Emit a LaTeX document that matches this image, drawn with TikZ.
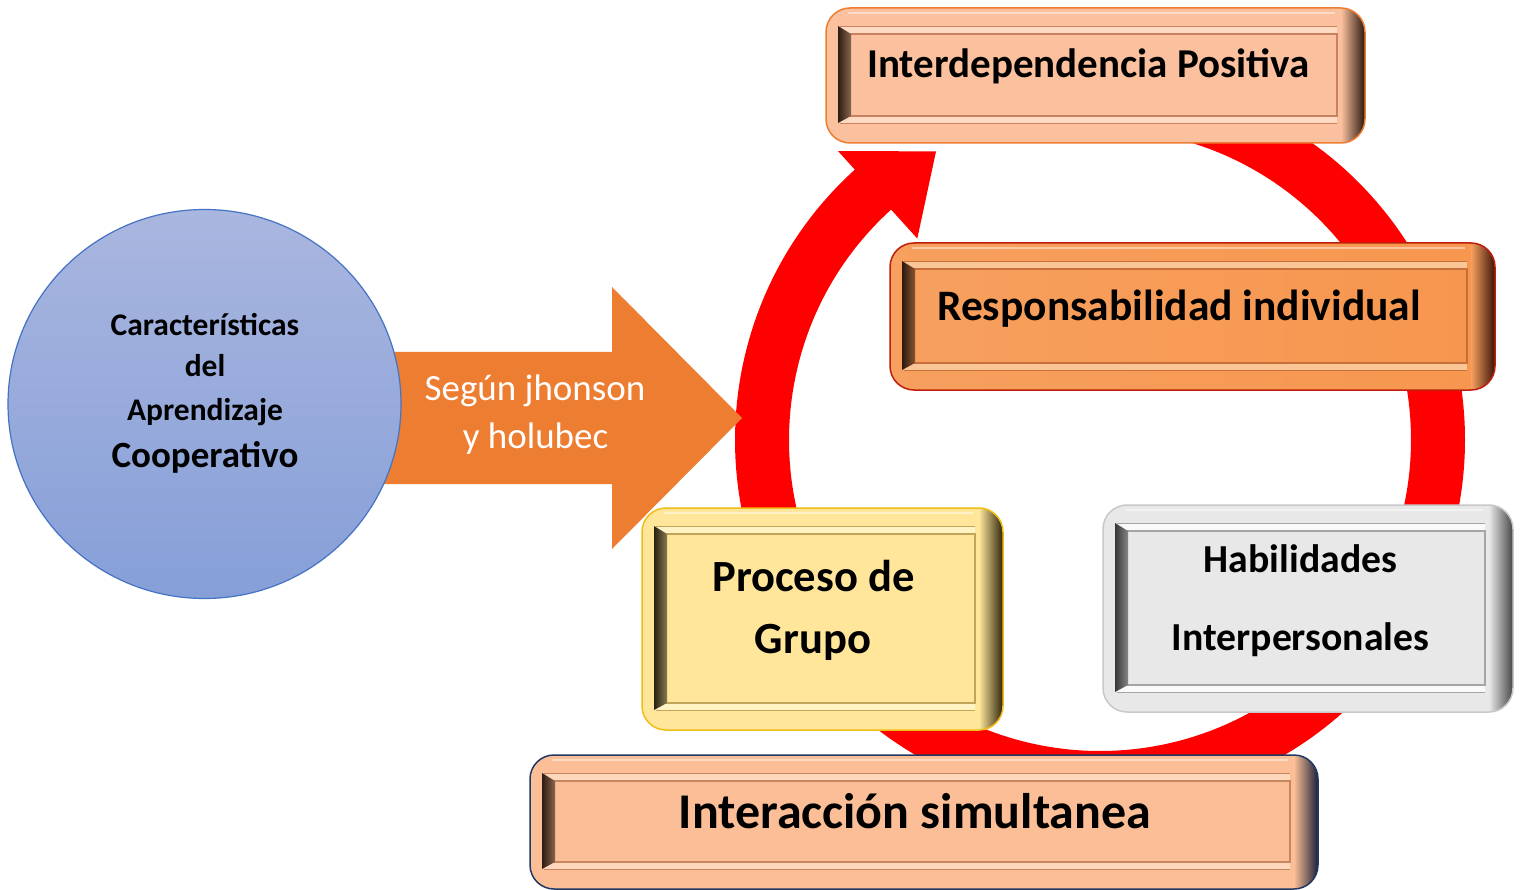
\documentclass[tikz,border=0pt]{standalone}
\usepackage{fontspec}
\setmainfont{Carlito}
\usetikzlibrary{calc,shapes.geometric}
% colour sets: main, light, line, bar, dark, edge
\definecolor{ipmain}{RGB}{251,192,158}\definecolor{iplight}{RGB}{254,218,195}\definecolor{ipline}{RGB}{200,130,95}
\definecolor{ipbar}{RGB}{45,28,18}\definecolor{ipdark}{RGB}{40,22,12}\definecolor{ipedge}{RGB}{237,125,49}
\definecolor{rimain}{RGB}{247,160,95}\definecolor{rilight}{RGB}{250,198,150}\definecolor{riline}{RGB}{200,112,60}
\definecolor{ribar}{RGB}{45,25,12}\definecolor{ridark}{RGB}{60,18,8}\definecolor{riedge}{RGB}{190,30,10}
\definecolor{rimid}{RGB}{250,186,135}\definecolor{riright}{RGB}{247,150,78}
\definecolor{pgmain}{RGB}{255,230,155}\definecolor{pglight}{RGB}{255,242,195}\definecolor{pgline}{RGB}{195,165,90}
\definecolor{pgbar}{RGB}{40,33,18}\definecolor{pgdark}{RGB}{45,35,10}\definecolor{pgedge}{RGB}{240,190,20}
\definecolor{himain}{RGB}{232,232,232}\definecolor{hilight}{RGB}{250,250,250}\definecolor{hiline}{RGB}{165,165,165}
\definecolor{hibar}{RGB}{55,55,55}\definecolor{hidark}{RGB}{70,70,70}\definecolor{hiedge}{RGB}{200,200,200}
\definecolor{ismain}{RGB}{251,190,150}\definecolor{islight}{RGB}{254,215,188}\definecolor{isline}{RGB}{200,135,95}
\definecolor{isbar}{RGB}{45,28,18}\definecolor{isdark}{RGB}{25,32,55}\definecolor{isedge}{RGB}{31,56,100}
\definecolor{arroworange}{RGB}{237,125,49}
\definecolor{ctop}{RGB}{169,182,223}\definecolor{cbot}{RGB}{134,159,216}\definecolor{cedge}{RGB}{68,114,196}
\tikzset{
  bevel/.style={rounded corners=24pt, fill=#1main, draw=#1edge, line width=1.5pt,
    inner sep=0pt, outer sep=0pt,
    path picture={
      \coordinate (bbnw) at (path picture bounding box.north west);
      \coordinate (bbse) at (path picture bounding box.south east);
      \coordinate (bbne) at (path picture bounding box.north east);
      \coordinate (bbsw) at (path picture bounding box.south west);
      \shade[sharp corners, left color=#1main, right color=#1dark]
        ($(bbne)+(-24,0)$) rectangle (bbse);
      \fill[sharp corners, #1light] ($(bbnw)+(14,18)$) rectangle ($(bbne)+(-28,26)$);
      \fill[sharp corners, #1light] ($(bbsw)+(14,-27)$) rectangle ($(bbse)+(-28,-20)$);
      \draw[sharp corners, #1line, line width=0.8pt] ($(bbnw)+(14,18)$) -- ($(bbne)+(-28,18)$);
      \draw[sharp corners, #1line, line width=1.2pt] ($(bbnw)+(14,26)$) -- ($(bbne)+(-28,26)$)
        -- ($(bbse)+(-28,-27)$) -- ($(bbsw)+(14,-27)$);
      \draw[sharp corners, #1line, line width=0.8pt] ($(bbsw)+(14,-20)$) -- ($(bbse)+(-28,-20)$);
      \shade[sharp corners, left color=#1bar, right color=#1bar!55!#1main]
        ($(bbnw)+(12,18)$) -- ($(bbnw)+(25,26)$) -- ($(bbsw)+(25,-27)$) -- ($(bbsw)+(12,-20)$) -- cycle;
      \draw[sharp corners, white, opacity=0.45, line width=2pt] ($(bbnw)+(22,5)$) -- ($(bbne)+(-30,5)$);
    }},
  btext/.style={anchor=base, inner sep=0pt, font=\bfseries\fontsize{#1}{#1}\selectfont},
  ctext/.style={anchor=base, inner sep=0pt, font=\bfseries\fontsize{#1}{#1}\selectfont},
  atext/.style={anchor=base, inner sep=0pt, text=white, font=\fontsize{#1}{#1}\selectfont},
  ring/.style={draw=red, line width=54pt},
  blockarrow/.style={fill=arroworange},
}
\begin{document}
\begin{tikzpicture}[x=1pt,y=-1pt]
\useasboundingbox (0,0) rectangle (1523,890);
\fill[white] (0,0) rectangle (1523,890);

% ring arrow
\coordinate (ringc) at (1100,440);
\draw[ring] ($(ringc)+(228.5:338)$) arc[start angle=228.5, end angle=-100, radius=338];
\fill[red] ($(ringc)+(227.8:390)$) -- ($(ringc)+(240.4:332)$) -- ($(ringc)+(227.8:272)$) -- cycle;

% block arrow from circle
\fill[blockarrow] (380,352) -- (612,352) -- (612,287) -- (742,418) -- (612,549) -- (612,484) -- (380,484) -- cycle;

% circle
\node[ellipse, draw=cedge, line width=1.2pt, top color=ctop, bottom color=cbot,
      minimum width=393pt, minimum height=389pt, inner sep=0pt] (circ) at (204.5,404) {};
\node[ctext=31.5] (c1) at (205,336) {Características};
\node[ctext=31.5] (c2) at (205,377) {del};
\node[ctext=31.5] (c3) at (205,420) {Aprendizaje};
\node[ctext=37] (c4) at (205,467) {Cooperativo};

\node[atext=37] (a1) at (535,400) {Según jhonson};
\node[atext=37] (a2) at (535.5,448) {y holubec};

% boxes
\node[bevel=ip, minimum width=539pt, minimum height=135pt] (top) at (1095.5,75.5) {};
\node[bevel=ri, left color=rimain, middle color=rimid, right color=riright,
      minimum width=605pt, minimum height=147pt] (resp) at (1192.5,316.5) {};
\node[bevel=pg, minimum width=361pt, minimum height=222pt] (proc) at (822.5,619) {};
\node[bevel=hi, minimum width=410pt, minimum height=207pt] (hab) at (1308,608.5) {};
\node[bevel=is, minimum width=788pt, minimum height=134pt] (inter) at (924,822) {};

\node[btext=41] (t1) at (1088.5,78) {Interdependencia Positiva};
\node[btext=43.5] (t2) at (1179,321) {Responsabilidad individual};
\node[btext=44.6] (t3) at (813.5,591) {Proceso de};
\node[btext=44.6] (t4) at (813,653) {Grupo};
\node[btext=39.7] (t5) at (1300.5,572) {Habilidades};
\node[btext=39.7] (t6) at (1300.5,650) {Interpersonales};
\node[btext=50] (t7) at (915,828) {Interacción simultanea};
\end{tikzpicture}
\end{document}
